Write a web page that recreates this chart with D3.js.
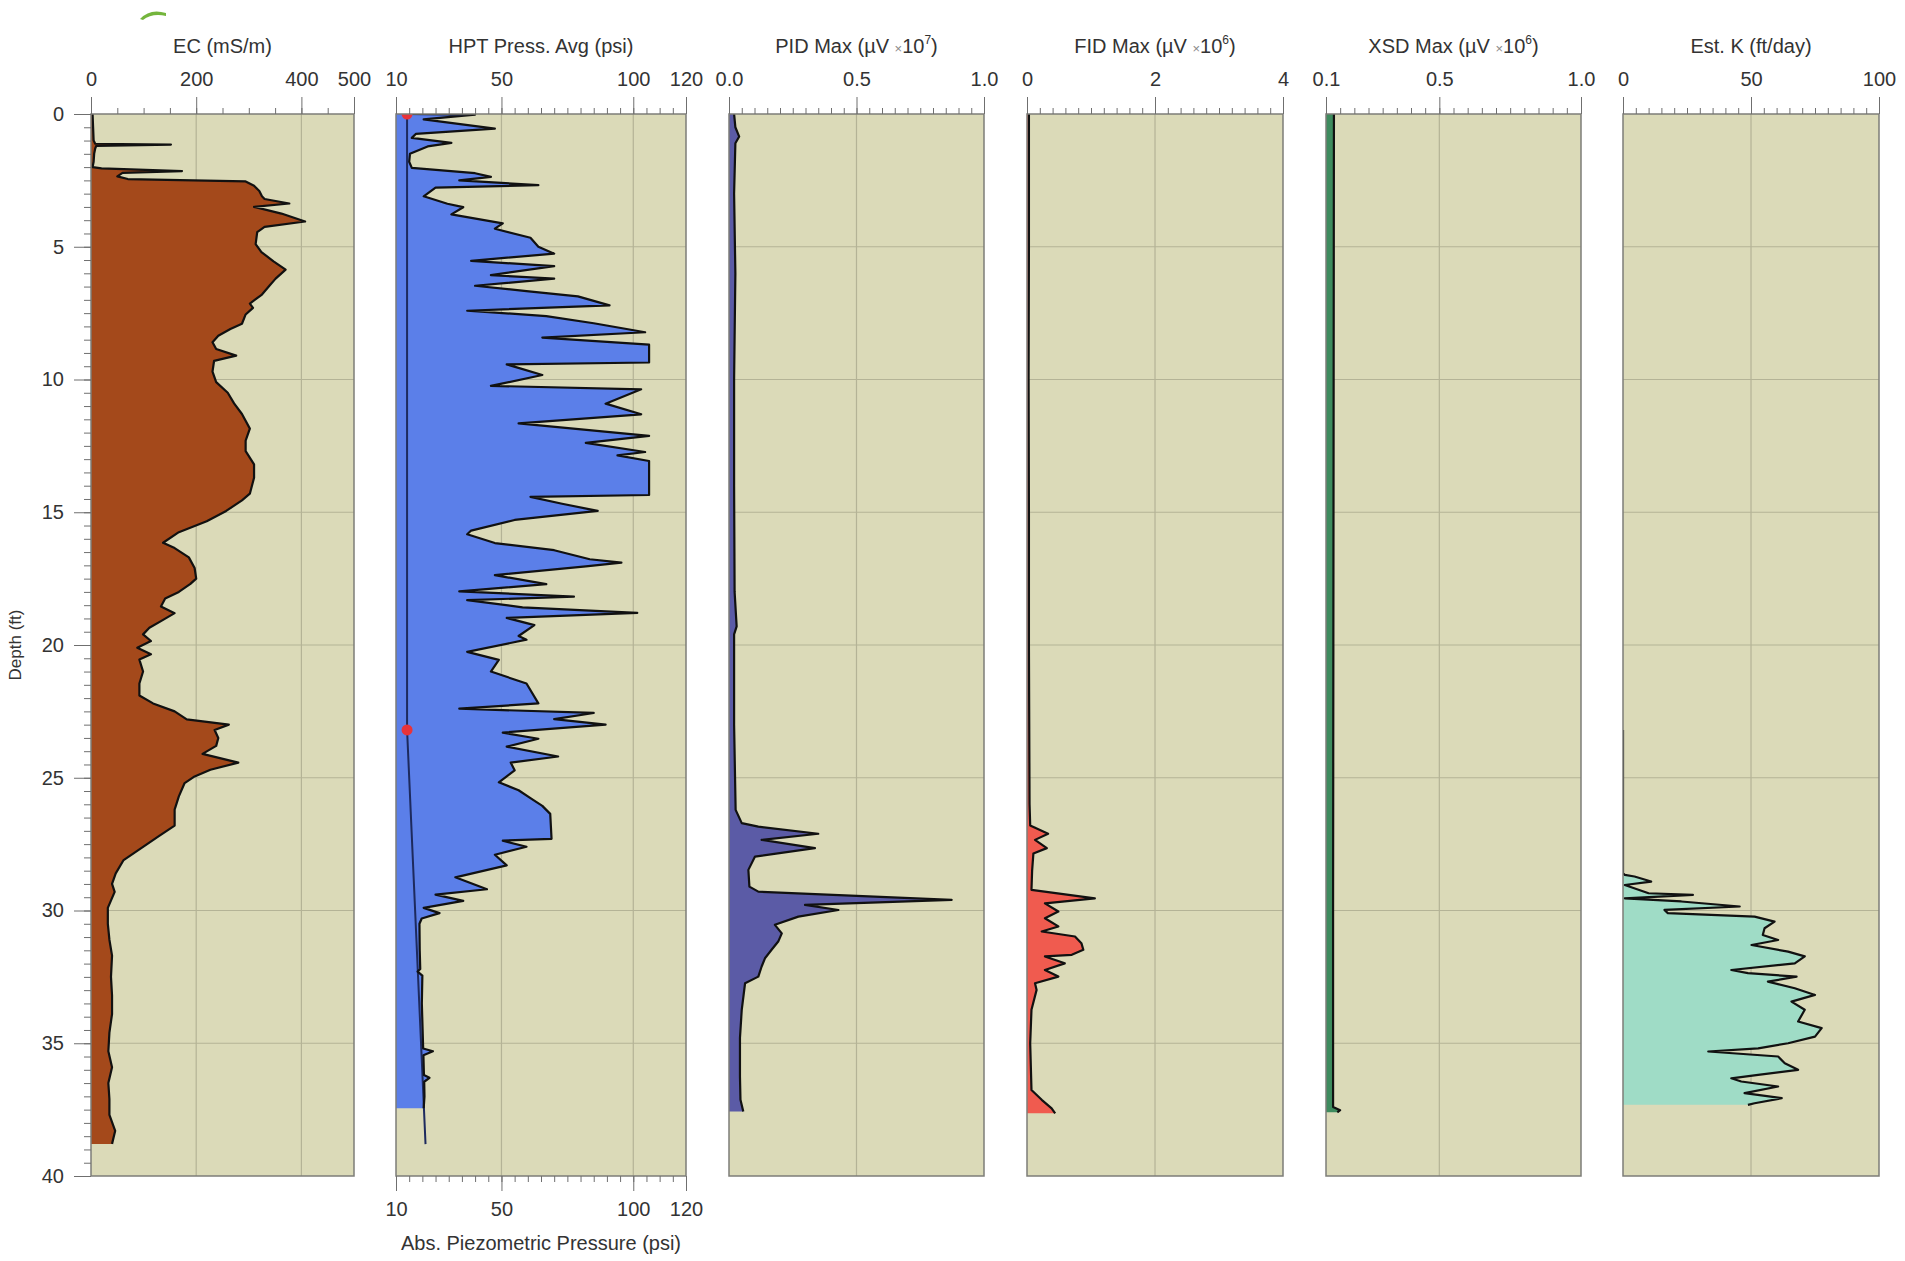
<!DOCTYPE html>
<html>
<head>
<meta charset="utf-8">
<script src="https://cdn.jsdelivr.net/npm/d3@7"></script>
<style>
  body { margin: 0; background: #fff; }
  svg { display: block; font-family: "Liberation Sans", Arial, sans-serif; }
  .axis text { fill: #333; font-size: 20px; }
  .axis path { display: none; }
  .axis line { stroke: #6f6f6f; }
  .title { fill: #333; font-size: 20px; }
</style>
</head>
<body>
<svg width="1905" height="1261"></svg>
<script>
// depth ticks (ft)
var depthMajor = d3.range(0, 40.01, 5);
var depthMinor = d3.range(0, 40.01, 0.5);

// top axis tick labels per log
var ecTicks = [0, 200, 400, 500];
var hptTicks = [10, 50, 100, 120];
var pidTicks = [0, 0.5, 1.0];
var fidTicks = [0, 2, 4];
var xsdTicks = [0.1, 0.5, 1.0];
var kTicks = [0, 50, 100];

// [depth ft, value]
var ecData = [[0,3],[0.5,4],[1.0,5],[1.12,8],[1.15,152],[1.2,10],[1.3,8],[1.5,6],[1.8,5],[2.0,3],[2.05,20],
  [2.15,173],[2.22,60],[2.35,50],[2.45,70],[2.54,294],[2.7,310],[2.9,320],[3.1,325],[3.2,330],[3.37,377],
  [3.5,310],[3.75,362],[4.05,407],[4.25,330],[4.45,316],[4.9,313],[5.2,324],[5.55,347],[5.86,370],[6.2,351],
  [6.45,340],[6.8,325],[7.14,302],[7.3,308],[7.55,294],[7.9,287],[8.1,265],[8.35,242],[8.6,231],[8.85,238],
  [9.1,276],[9.3,234],[9.7,231],[10.1,238],[10.5,260],[10.9,272],[11.3,287],[11.85,302],[12.3,294],[12.7,294],
  [13.2,310],[13.7,310],[14.3,302],[14.55,287],[14.95,257],[15.34,220],[15.75,167],[16.15,137],[16.35,159],
  [16.7,186],[17.1,197],[17.5,200],[17.7,189],[18.0,167],[18.25,141],[18.55,133],[18.8,159],[19.1,133],
  [19.35,111],[19.6,99],[19.85,114],[20.1,88],[20.35,114],[20.55,92],[21.0,99],[21.45,92],[21.9,92],[22.2,118],
  [22.5,159],[22.8,182],[23.0,262],[23.2,235],[23.5,242],[23.8,238],[24.1,212],[24.43,280],[24.7,227],
  [24.95,197],[25.2,178],[25.7,167],[26.2,159],[26.8,159],[27.2,129],[27.7,92],[28.1,62],[28.6,47],[29.0,40],
  [29.3,45],[29.9,32],[30.5,32],[31.1,35],[31.7,40],[32.5,38],[33.2,40],[33.9,40],[34.6,35],[35.3,33],
  [35.9,40],[36.5,33],[37.1,35],[37.7,35],[38.3,46],[38.79,40]];

var hptData = [[0,14.5],[0.02,40],[0.2,20.5],[0.55,47.5],[0.75,17.5],[0.9,16],[1.09,31],[1.22,22],[1.5,15.3],
  [1.8,15],[2.03,16],[2.23,40],[2.37,46],[2.5,34],[2.68,64],[2.77,25],[3.1,20.5],[3.38,29.5],[3.51,35.5],
  [3.78,31],[4.12,50.5],[4.32,47.5],[4.66,61],[5.0,64],[5.26,70],[5.53,38.5],[5.73,70],[6.07,46],[6.2,70],
  [6.47,40],[6.67,59.5],[6.87,79],[7.21,91],[7.41,37],[7.61,67],[7.88,85],[8.22,104.5],[8.42,65.5],[8.69,106],
  [9.36,106],[9.43,52],[9.83,65.5],[10.24,46],[10.37,103],[10.91,89.5],[11.31,103],[11.65,56.5],[12.12,106],
  [12.39,82],[12.73,104.5],[12.86,94],[13.07,106],[14.35,106],[14.42,61],[14.68,73],[14.95,86.5],[15.29,55],
  [15.69,38.5],[15.83,37],[16.16,47.5],[16.43,70],[16.77,83.5],[16.9,95.5],[17.04,82],[17.37,47.5],[17.71,67],
  [17.98,34],[18.18,77.5],[18.31,37],[18.58,58],[18.79,101.5],[18.98,52],[19.25,62.5],[19.66,56.5],[19.8,59.5],
  [20.26,37],[20.56,49],[21.0,46],[21.45,59.5],[22.2,64],[22.4,34],[22.56,85],[22.79,70],[23.0,89.5],
  [23.3,50.5],[23.53,64],[23.83,52],[24.2,71.5],[24.43,53.5],[24.72,55],[25.17,49],[25.47,56.5],[25.77,61],
  [26.06,65.5],[26.36,68.5],[27.3,69],[27.37,50.5],[27.6,59.5],[27.9,47.5],[28.3,52],[28.75,32.5],[29.2,44.5],
  [29.4,25],[29.64,35.5],[29.9,20.5],[30.1,26.5],[30.3,19.75],[30.5,18.9],[31.5,19],[32.2,19.2],[32.3,18.2],
  [32.45,20],[33.5,19.8],[34.5,20.1],[35.2,20.3],[35.3,24],[35.45,20.4],[36.2,20.6],[36.3,22.7],[36.45,20.7],
  [37.0,20.8],[37.45,20.5]];

var piezoData = [[0,14.2],[23.2,14.2],[38.8,21.2]];
var piezoMarks = [[0,14.2],[23.2,14.2]];

var pidData = [[0,0.02],[0.5,0.025],[0.85,0.04],[1.1,0.025],[3,0.02],[6,0.025],[10,0.02],[14,0.02],[18,0.022],
  [19.3,0.03],[19.6,0.02],[23,0.02],[26.21,0.026],[26.71,0.05],[26.84,0.115],[27.11,0.35],[27.34,0.128],
  [27.65,0.337],[27.97,0.102],[28.47,0.076],[29.1,0.08],[29.29,0.115],[29.6,0.873],[29.79,0.298],[29.98,0.429],
  [30.23,0.272],[30.54,0.18],[30.86,0.207],[31.17,0.193],[31.48,0.167],[31.8,0.141],[32.11,0.128],[32.49,0.115],
  [32.74,0.063],[33.74,0.05],[34.8,0.043],[36.25,0.043],[37.13,0.045],[37.57,0.056]];

var fidData = [[0,0.03],[5,0.03],[10,0.025],[15,0.03],[20,0.03],[26,0.04],[26.8,0.05],[27.11,0.33],[27.34,0.125],
  [27.65,0.31],[27.85,0.1],[28.5,0.08],[29.22,0.07],[29.54,1.06],[29.73,0.28],[30.04,0.49],[30.29,0.28],
  [30.6,0.49],[30.79,0.23],[30.98,0.75],[31.23,0.85],[31.48,0.88],[31.67,0.7],[31.73,0.28],[31.99,0.59],
  [32.24,0.28],[32.49,0.49],[32.74,0.125],[32.99,0.15],[33.74,0.07],[35,0.05],[36.76,0.07],[37.13,0.23],
  [37.45,0.385],[37.64,0.44]];

var xsdData = [[0,0.128],[10,0.127],[20,0.126],[30,0.125],[37.4,0.125],[37.52,0.15],[37.6,0.14]];

var kData = [[23.2,0],[28.6,0],[28.66,0.7],[28.72,4.5],[28.91,11],[29.04,0.7],[29.35,10],[29.41,27.3],[29.54,0.7],
  [29.66,22.8],[29.85,45.6],[29.98,16.2],[30.1,17.5],[30.23,51.4],[30.42,59.2],[30.67,55.3],[30.92,54.6],
  [31.11,60.6],[31.3,50.2],[31.55,64.5],[31.73,71],[31.99,67.1],[32.24,42.3],[32.36,48.8],[32.49,67.8],
  [32.68,56.6],[32.93,67.1],[33.18,75],[33.43,65.8],[33.74,71],[34.18,68.4],[34.43,77.6],[34.75,75],[35.0,64.5],
  [35.19,52.8],[35.31,33.3],[35.5,60.6],[35.75,63.2],[36.0,68.4],[36.19,52.8],[36.32,42.3],[36.44,46.2],
  [36.63,60.6],[36.88,47.5],[37.07,62],[37.26,51.4],[37.32,48.8]];

var panels = [
  {id: "ec", title: "EC (mS/m)", domain: [0, 500], ticks: ecTicks, minor: 50, fmt: "d",
    x0: 91, x1: 354, data: ecData, color: "#a4491b"},
  {id: "hpt", title: "HPT Press. Avg (psi)", domain: [10, 120], ticks: hptTicks, minor: 5, fmt: "d",
    x0: 396, x1: 686, data: hptData, color: "#5b7fe9"},
  {id: "pid", title: "PID Max (\u00b5V", exp: "7", domain: [0, 1], ticks: pidTicks, minor: 0.05, fmt: ".1f",
    x0: 729, x1: 984, data: pidData, color: "#5b5ba6"},
  {id: "fid", title: "FID Max (\u00b5V", exp: "6", domain: [0, 4], ticks: fidTicks, minor: 0.2, fmt: "d",
    x0: 1027, x1: 1283, data: fidData, color: "#f05b4f"},
  {id: "xsd", title: "XSD Max (\u00b5V", exp: "6", domain: [0.1, 1], ticks: xsdTicks, minor: 0.05, fmt: ".1f",
    x0: 1326, x1: 1581, data: xsdData, color: "#3e8b5e"},
  {id: "k", title: "Est. K (ft/day)", domain: [0, 100], ticks: kTicks, minor: 5, fmt: "d",
    x0: 1623, x1: 1879, data: kData, color: "#9fdcc6"}
];

var svg = d3.select("svg"),
    top0 = 114, bottom0 = 1176;

var y = d3.scaleLinear().domain([0, 40]).range([top0, bottom0]);

// stray logo bit in the corner of the original
svg.append("path")
    .attr("d", "M140,19 Q150,8 166,13 L166,16 Q152,13 143,20 Z")
    .attr("fill", "#74b53c");

panels.forEach(function(p) {
  var x = d3.scaleLinear().domain(p.domain).range([p.x0, p.x1]);
  p.x = x;
  var g = svg.append("g").attr("class", "panel-" + p.id);

  g.append("clipPath").attr("id", "clip-" + p.id)
    .append("rect")
      .attr("x", p.x0).attr("y", top0)
      .attr("width", p.x1 - p.x0).attr("height", bottom0 - top0);

  g.append("rect")
      .attr("x", p.x0).attr("y", top0)
      .attr("width", p.x1 - p.x0).attr("height", bottom0 - top0)
      .attr("fill", "#dbdab8");

  // grid
  g.append("g").selectAll("line")
    .data(p.ticks.slice(1, -1))
    .enter().append("line")
      .attr("x1", x).attr("x2", x)
      .attr("y1", top0).attr("y2", bottom0)
      .attr("stroke", "#b4b396").attr("stroke-width", 1.2);

  g.append("g").selectAll("line")
    .data(depthMajor.slice(1, -1))
    .enter().append("line")
      .attr("x1", p.x0).attr("x2", p.x1)
      .attr("y1", y).attr("y2", y)
      .attr("stroke", "#b4b396").attr("stroke-width", 1.2);

  var plot = g.append("g").attr("clip-path", "url(#clip-" + p.id + ")");

  var area = d3.area()
      .y(function(d) { return y(d[0]); })
      .x0(x(p.domain[0]))
      .x1(function(d) { return x(d[1]); });

  var line = d3.line()
      .x(function(d) { return x(d[1]); })
      .y(function(d) { return y(d[0]); });

  plot.append("path")
      .datum(p.data)
      .attr("d", area)
      .attr("fill", p.color);

  if (p.id == "hpt") {
    plot.append("path")
        .datum(piezoData)
        .attr("d", line)
        .attr("fill", "none")
        .attr("stroke", "#1d2a5e")
        .attr("stroke-width", 2);
  }

  plot.append("path")
      .datum(p.data)
      .attr("d", line)
      .attr("fill", "none")
      .attr("stroke", "#111")
      .attr("stroke-width", 2.2)
      .attr("stroke-linejoin", "round");

  if (p.id == "hpt") {
    plot.selectAll("circle")
      .data(piezoMarks)
      .enter().append("circle")
        .attr("cx", function(d) { return x(d[1]); })
        .attr("cy", function(d) { return y(d[0]); })
        .attr("r", 5.5)
        .attr("fill", "#e8333a");
  }

  g.append("rect")
      .attr("x", p.x0).attr("y", top0)
      .attr("width", p.x1 - p.x0).attr("height", bottom0 - top0)
      .attr("fill", "none")
      .attr("stroke", "#7d7d78")
      .attr("stroke-width", 1.5);

  // top axis
  var minorTicks = d3.range(p.domain[0], p.domain[1] + p.minor / 2, p.minor);

  g.append("g")
      .attr("class", "axis")
      .attr("transform", "translate(0," + top0 + ")")
      .call(d3.axisTop(x).tickValues(minorTicks).tickSize(6).tickFormat(""));

  g.append("g")
      .attr("class", "axis")
      .attr("transform", "translate(0," + top0 + ")")
      .call(d3.axisTop(x).tickValues(p.ticks).tickSize(17).tickPadding(11).tickFormat(d3.format(p.fmt)));

  var t = g.append("text")
      .attr("class", "title")
      .attr("x", (p.x0 + p.x1) / 2)
      .attr("y", 53)
      .attr("text-anchor", "middle")
      .text(p.title);

  if (p.exp) {
    t.append("tspan").text(" ");
    t.append("tspan").attr("font-size", 13).attr("fill", "#888").text("\u00d7");
    t.append("tspan").text("10");
    t.append("tspan").attr("font-size", 12).attr("dy", -9).text(p.exp);
    t.append("tspan").attr("dy", 9).text(")");
  }
});

// depth axis on the first log
svg.append("g")
    .attr("class", "axis")
    .attr("transform", "translate(" + panels[0].x0 + ",0)")
    .call(d3.axisLeft(y).tickValues(depthMinor).tickSize(7).tickFormat(""));

svg.append("g")
    .attr("class", "axis")
    .attr("transform", "translate(" + panels[0].x0 + ",0)")
    .call(d3.axisLeft(y).tickValues(depthMajor).tickSize(17).tickPadding(10));

svg.append("text")
    .attr("class", "title")
    .attr("font-size", 17)
    .style("font-size", "17px")
    .attr("text-anchor", "middle")
    .attr("transform", "translate(21," + y(20) + ") rotate(-90)")
    .text("Depth (ft)");

// bottom pressure axis under the HPT log
var hx = panels[1].x;
svg.append("g")
    .attr("class", "axis")
    .attr("transform", "translate(0," + bottom0 + ")")
    .call(d3.axisBottom(hx).tickValues(d3.range(10, 120.1, 5)).tickSize(6).tickFormat(""));

svg.append("g")
    .attr("class", "axis")
    .attr("transform", "translate(0," + bottom0 + ")")
    .call(d3.axisBottom(hx).tickValues(hptTicks).tickSize(15).tickPadding(11));

svg.append("text")
    .attr("class", "title")
    .attr("x", (panels[1].x0 + panels[1].x1) / 2)
    .attr("y", 1250)
    .attr("text-anchor", "middle")
    .text("Abs. Piezometric Pressure (psi)");
</script>
</body>
</html>
